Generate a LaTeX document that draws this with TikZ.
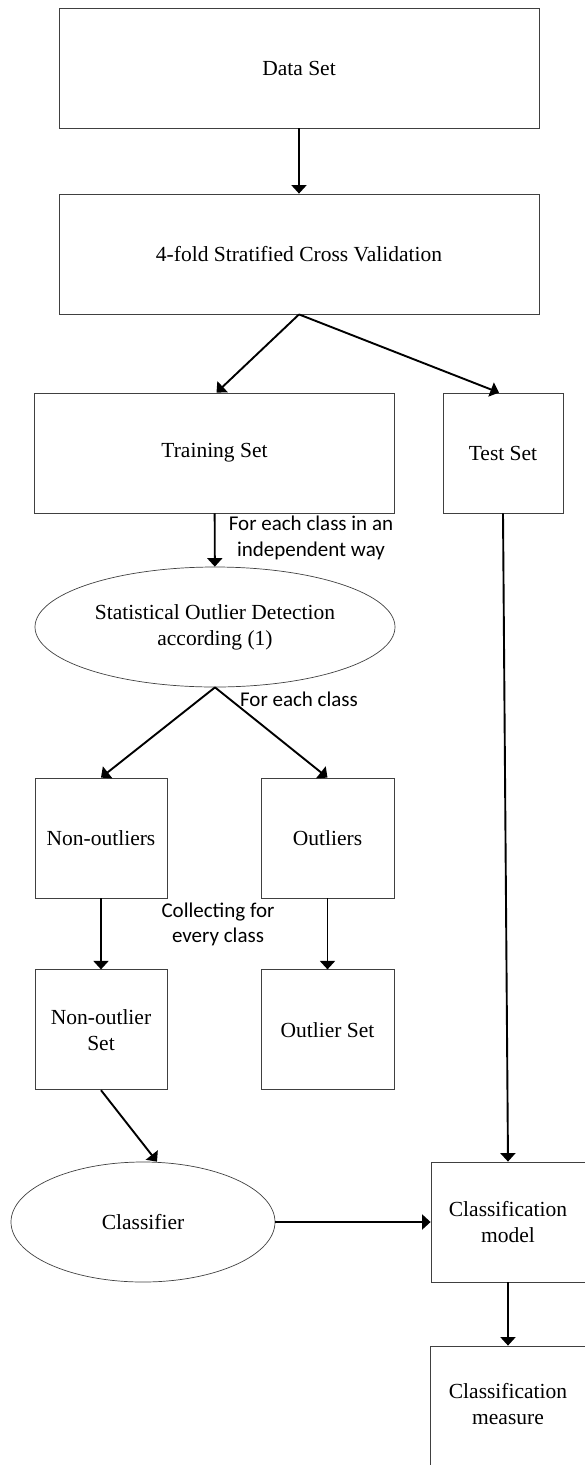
\documentclass[tikz,border=0pt]{standalone}
\usepackage{fontspec}
\setmainfont{Liberation Serif}
\newfontfamily\lblfont{Carlito}
\usepackage{tikz}
\usetikzlibrary{arrows.meta, positioning, shapes.geometric}

\begin{document}
\begin{tikzpicture}[
    x=1pt, y=-1pt,
    font=\fontsize{21.5}{26}\selectfont,
    mybox/.style={
        rectangle,
        minimum height=120pt,
        inner sep=0pt,
        align=center,
        draw=black!75,
        line width=0.8pt
    },
    myoval/.style={
        ellipse,
        minimum height=120pt,
        inner sep=0pt,
        align=center,
        draw=black!75,
        line width=0.7pt
    },
    mylabel/.style={
        font=\lblfont\fontsize{21}{25.5}\selectfont,
        align=center,
        inner sep=0pt
    },
    myarrow/.style={
        -{Triangle[width=15pt,length=8.5pt]},
        line width=1.9pt
    }
]
\useasboundingbox (0,0) rectangle (585,1465);

\node (data) [mybox, minimum width=480pt] at (299,68) {Data Set};
\node (cv) [mybox, minimum width=480pt] at (299,254) {4-fold Stratified Cross Validation};
\node (train) [mybox, minimum width=360pt] at (214.5,453) {Training Set};
\node (test) [mybox, minimum width=120pt] at (503,453) {Test Set};
\node (detect) [myoval, minimum width=360pt] at (215,627) {};
\node (detecttxt) [align=center, inner sep=0pt] at (detect) {Statistical Outlier Detection\\according (1)};
\node (nonout) [mybox, minimum width=132pt] at (101,838) {Non-outliers};
\node (outl) [mybox, minimum width=133pt] at (327.5,838) {Outliers};
\node (nonoutset) [mybox, minimum width=132pt, below=71pt of nonout] {Non-outlier\\Set};
\node (outset) [mybox, minimum width=133pt, below=71pt of outl] {Outlier Set};
\node (clf) [myoval, minimum width=264pt] at (143,1222) {Classifier};
\node (model) [mybox, minimum width=160pt] at (511,1222) {};
\node (modeltxt) [align=center, inner sep=0pt] at (508,1222) {Classification\\model};
\node (measure) [mybox, minimum width=160pt, minimum height=124pt] at (510,1408) {};
\node (measuretxt) [align=center, inner sep=0pt] at (508,1404) {Classification\\measure};

% labels on the connectors
\node (lbleach) [mylabel] at (311,538) {For each class in an\\independent way};
\node (lblclass) [mylabel] at (299,699) {For each class};
\node (lblcollect) [mylabel] at (218,924.5) {Collecting for\\every class};

\draw [myarrow] (data) -- (cv);
\draw [myarrow] (cv.south) -- ([xshift=2pt]train.north);
\draw [myarrow] (cv.south) -- ([xshift=-4pt]test.north);
\draw [myarrow] (train) -- (detect);
\draw [myarrow] (detect.south) -- (nonout.north);
\draw [myarrow] (detect.south) -- (outl.north);
\draw [myarrow] (nonout) -- (nonoutset);
\draw [myarrow] (outl) -- (outset);
\draw [myarrow] (nonoutset.south) -- ([xshift=14pt]clf.north);
\draw [myarrow] (clf) -- (model);
\draw [myarrow] (test.south) -- (modeltxt |- model.north);
\draw [myarrow] (modeltxt |- model.south) -- (modeltxt |- measure.north);
\end{tikzpicture}
\end{document}
